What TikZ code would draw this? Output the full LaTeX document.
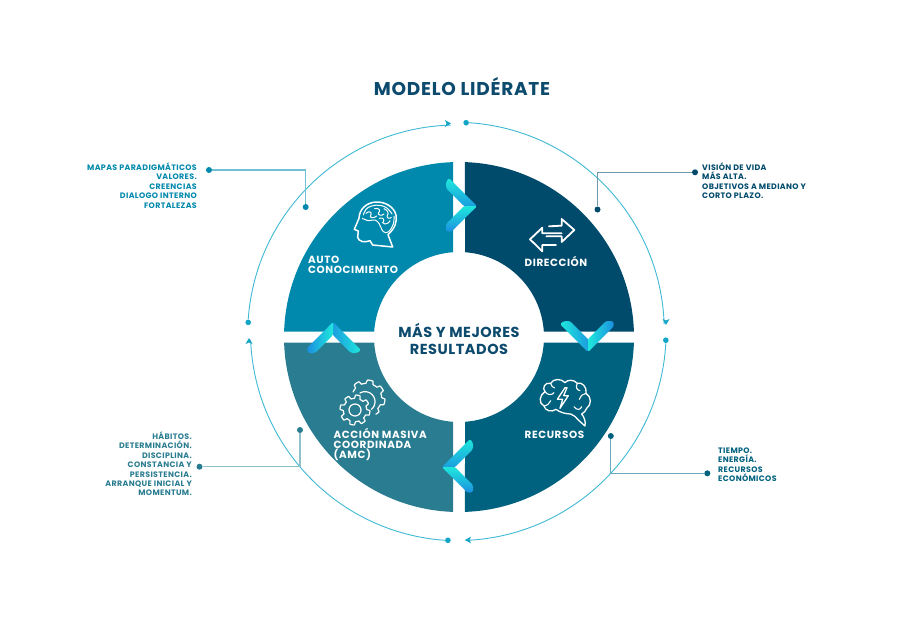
\documentclass[tikz,border=0pt]{standalone}
\usepackage{fontspec}
\setmainfont{Poppins}
\definecolor{cTL}{HTML}{0089AC}
\definecolor{cTR}{HTML}{004A6C}
\definecolor{cBL}{HTML}{2A7D90}
\definecolor{cBR}{HTML}{00627F}
\definecolor{lTL}{HTML}{6FC0D4}
\definecolor{lTR}{HTML}{6F98AE}
\definecolor{lBL}{HTML}{90C0CA}
\definecolor{lBR}{HTML}{6AA8BE}
\definecolor{ringc}{HTML}{3FBAD5}
\definecolor{ringd}{HTML}{12A5C5}
\definecolor{chA}{HTML}{1EE8DC}
\definecolor{chB}{HTML}{1C8EE0}
\definecolor{titlec}{HTML}{0C4A6E}
\tikzset{
  ringdot/.style={circle,fill=ringd,inner sep=0pt,minimum size=5.6pt},
  ringarc/.style={draw=ringc,line width=0.9pt},
  ringtip/.style={fill=ringd,draw=none},
  leader/.style={line width=1.2pt},
  enddot/.style={circle,inner sep=0pt,minimum size=6pt},
  sidetext/.style={inner sep=0pt,font=\fontsize{7.9}{9.38}\selectfont\bfseries\addfontfeature{LetterSpace=4.4}},
  seglabel/.style={inner sep=0pt,text=white,font=\fontsize{10.4}{9.7}\selectfont\bfseries\addfontfeature{LetterSpace=5.6}},
  icon/.style={draw=white,line width=1.5pt,line join=round,line cap=round,fill=none},
  thinicon/.style={icon,line width=1pt},
  cupper/.style={shade,top color=chA,bottom color=chB},
  cdown/.style={shade,left color=chA,right color=chB},
  cup/.style={shade,left color=chB,right color=chA}
}
\newcommand{\chevron}[7]{% tipx tipy xvec-x xvec-y yvec-x yvec-y style
  \begin{scope}[shift={(#1pt,-#2pt)},x={(#3pt,#4pt)},y={(#5pt,#6pt)}]
    \path[#7,rounded corners=1.5pt] (-28,28) -- (-31,24) -- (-31,18) -- (-13,0) -- (-6,-6) -- (0,0) -- cycle;
    \path[#7,rounded corners=1.5pt] (0,0) -- (-26,-26) -- (-31,-25) -- (-31,-18) -- (-13,0) -- cycle;
  \end{scope}}
\begin{document}
\begin{tikzpicture}[x=1pt,y=-1pt]
\useasboundingbox (0,0) rectangle (904,625);
\fill[white] (0,0) rectangle (904,625);
% ring
\begin{scope}[shift={(457pt,-331.5pt)},x=1pt,y=1pt]
  \node[ringdot] (rt) at (87.5:209) {};
  \node[ringdot] (rr) at (-2.4:209) {};
  \node[ringdot] (rb) at (-92.5:209) {};
  \node[ringdot] (rl) at (177.5:209) {};
  \draw[ringarc] (rt.east) arc[start angle=86.2,end angle=2.05,radius=209];
  \draw[ringarc] (rr.south) arc[start angle=-3.2,end angle=-87.7,radius=209];
  \draw[ringarc] (rb.west) arc[start angle=-94,end angle=-177.8,radius=209];
  \draw[ringarc] (rl.north) arc[start angle=176,end angle=91.7,radius=209];
\end{scope}
\fill[ringtip] (666,325) -- (662.5,319) -- (666,320.5) -- (669.5,319) -- cycle;
\fill[ringtip] (465,540) -- (471,536.6) -- (469.5,540) -- (471,543.4) -- cycle;
\fill[ringtip] (249,338) -- (245.5,344) -- (249,342.5) -- (252.5,344) -- cycle;
\fill[ringtip] (451,123.5) -- (445,120) -- (446.5,123.5) -- (445,127) -- cycle;
% leaders
\node[enddot,fill=cTL] (a1) at (209,170) {};
\node[enddot,fill=cTL] (a2) at (305.7,207) {};
\draw[leader,draw=lTL] (a1) -| (a2);
\node[enddot,fill=cTR] (b1) at (695,172.3) {};
\node[enddot,fill=cTR] (b2) at (597.5,209.5) {};
\draw[leader,draw=lTR] (b1) -| (b2);
\node[enddot,fill=cBL] (c1) at (199.5,466.7) {};
\node[enddot,fill=cBL] (c2) at (300,430) {};
\draw[leader,draw=lBL] (c1) -| (c2);
\node[enddot,fill=cBR] (d1) at (707.3,473.3) {};
\node[enddot,fill=cBR] (d2) at (610.8,436) {};
\draw[leader,draw=lBR] (d1) -| (d2);
% quadrants
\begin{scope}[shift={(459pt,-337pt)},x=1pt,y=1pt]
  \fill[cTR] (88.04:175) arc[start angle=88.04,end angle=1.8,radius=175] -- (3.71:85) arc[start angle=3.71,end angle=85.95,radius=85] -- cycle;
  \begin{scope}[xscale=-1]
  \fill[cTL] (88.04:175) arc[start angle=88.04,end angle=1.8,radius=175] -- (3.71:85) arc[start angle=3.71,end angle=85.95,radius=85] -- cycle;
  \end{scope}
  \begin{scope}[yscale=-1]
  \fill[cBR] (88.04:175) arc[start angle=88.04,end angle=1.8,radius=175] -- (3.71:85) arc[start angle=3.71,end angle=85.95,radius=85] -- cycle;
  \end{scope}
  \begin{scope}[xscale=-1,yscale=-1]
  \fill[cBL] (88.04:175) arc[start angle=88.04,end angle=1.8,radius=175] -- (3.71:85) arc[start angle=3.71,end angle=85.95,radius=85] -- cycle;
  \end{scope}
\end{scope}
% chevrons
\chevron{477}{206}{1}{0}{0}{1}{cupper}
\chevron{588}{352}{0}{-1}{-1}{0}{cdown}
\chevron{442}{467}{-1}{0}{0}{1}{cupper}
\chevron{333}{322}{0}{1}{1}{0}{cup}
% head icon
\begin{scope}[shift={(280pt,-150pt)},x=0.3333pt,y=-0.3333pt]
  \draw[icon] (338,291) -- (324,254) .. controls (345,235) and (352,215) .. (348,195)
    .. controls (342,170) and (315,155) .. (288,156)
    .. controls (258,158) and (238,178) .. (237,205) -- (223,238) -- (235,243) -- (233,262)
    .. controls (236,276) and (255,278) .. (270,272) -- (278,285) -- cycle;
  \draw[thinicon] plot[smooth,tension=0.7] coordinates {(247,205) (265,212) (285,210) (298,222) (310,245) (326,245) (340,222) (342,198)};
  \draw[thinicon] plot[smooth,tension=0.7] coordinates {(250,195) (258,178) (275,168) (300,166) (322,175) (336,192)};
  \draw[thinicon] (258,190) .. controls (268,180) and (278,188) .. (272,196) .. controls (266,204) and (282,206) .. (290,198);
  \draw[thinicon] (284,176) .. controls (296,172) and (304,182) .. (296,188) .. controls (290,194) and (306,200) .. (312,192);
  \draw[thinicon] (312,176) .. controls (322,180) and (328,190) .. (322,196) .. controls (316,204) and (332,208) .. (334,202);
  \draw[thinicon] (298,205) .. controls (310,200) and (316,212) .. (308,218) .. controls (316,226) and (326,220) .. (330,212);
\end{scope}
% arrows icon
\begin{scope}[shift={(450pt,-150pt)},x=0.3333pt,y=-0.3333pt]
  \draw[icon,line width=1.8pt] (297,229) -- (335,227) -- (335,207) -- (373,240) -- (335,276) -- (335,259) -- (289,259);
  \draw[icon,line width=1.8pt] (318,285) -- (277,285) -- (277,304) -- (240,268) -- (277,233) -- (277,250) -- (335,250);
\end{scope}
% gears icon
\begin{scope}[shift={(280pt,-330pt)},x=0.3333pt,y=-0.3333pt]
  \draw[thinicon,line width=1.2pt] plot[samples=193,domain=0:360] ({225+(40+5*max(-1,min(1,3*sin(8*\x))))*cos(\x)},{240+(40+5*max(-1,min(1,3*sin(8*\x))))*sin(\x)}) -- cycle;
  \draw[thinicon,line width=1.2pt] (225,240) circle[radius=18];
  \draw[thinicon,line width=1.2pt] plot[samples=120,domain=-155:60] ({260+(50+5*max(-1,min(1,3*sin(8*\x))))*cos(\x)},{205+(50+5*max(-1,min(1,3*sin(8*\x))))*sin(\x)});
  \draw[thinicon,line width=1.2pt] plot[samples=40,domain=-120:50] ({255+30*cos(\x)},{215+30*sin(\x)});
\end{scope}
% brain-bolt icon
\begin{scope}[shift={(450pt,-340pt)},x=0.3333pt,y=-0.3333pt]
  \draw[icon,line width=1.3pt] (345,128) .. controls (335,115) and (310,115) .. (302,130)
    .. controls (285,125) and (275,145) .. (285,155)
    .. controls (268,165) and (265,190) .. (282,198)
    .. controls (285,212) and (305,218) .. (318,208)
    .. controls (330,218) and (350,222) .. (362,222)
    .. controls (372,225) and (378,232) .. (385,240)
    -- (405,258) .. controls (408,245) and (402,230) .. (395,222)
    .. controls (402,218) and (408,212) .. (410,205)
    .. controls (425,195) and (425,170) .. (408,160)
    .. controls (412,140) and (395,125) .. (382,130)
    .. controls (372,118) and (352,118) .. (345,128);
  \draw[icon,line width=1.3pt] (345,143) -- (322,178) -- (338,178) -- (330,205) -- (355,167) -- (341,167) -- (351,143) -- cycle;
  \draw[thinicon,line width=1.1pt] (285,155) .. controls (292,166) and (306,166) .. (312,158);
  \draw[thinicon,line width=1.1pt] (282,198) .. controls (292,196) and (300,190) .. (302,182);
  \draw[thinicon,line width=1.1pt] (382,130) .. controls (376,142) and (380,150) .. (390,152);
  \draw[thinicon,line width=1.1pt] (408,160) .. controls (398,162) and (390,168) .. (388,178);
  \draw[thinicon,line width=1.1pt] (372,200) .. controls (380,212) and (392,210) .. (395,200);
  \draw[thinicon,line width=1.1pt] (302,130) .. controls (304,138) and (308,142) .. (314,144);
\end{scope}
% text
\node[anchor=center,inner sep=0pt,text=titlec,font=\fontsize{18.5}{20}\selectfont\bfseries\addfontfeature{LetterSpace=4}] (title) at (462,86.5) {MODELO LIDÉRATE};
\node[anchor=center,align=center,inner sep=0pt,text=titlec,font=\fontsize{14.5}{17}\selectfont\bfseries\addfontfeature{LetterSpace=3.7}] (centre) at (459,338.5) {MÁS Y MEJORES\\RESULTADOS};
\node[seglabel,anchor=west,align=left] (s1) at (308,265) {AUTO\\CONOCIMIENTO};
\node[seglabel,anchor=west] (s2) at (524.5,261.5) {DIRECCIÓN};
\node[seglabel,anchor=west] (s3) at (524.5,435) {RECURSOS};
\node[seglabel,anchor=west,align=left] (s4) at (333.5,444.5) {ACCIÓN MASIVA\\COORDINADA\\(AMC)};
\node[sidetext,anchor=east,align=right,text=cTL] (t1) at (197,185.5) {MAPAS PARADIGMÁTICOS\\VALORES.\\CREENCIAS\\DIALOGO INTERNO\\FORTALEZAS};
\node[sidetext,anchor=west,align=left,text=cTR] (t2) at (702,180.5) {VISIÓN DE VIDA\\MÁS ALTA.\\OBJETIVOS A MEDIANO Y\\CORTO PLAZO.};
\node[sidetext,anchor=east,align=right,text=cBL] (t3) at (192,463.8) {HÁBITOS.\\DETERMINACIÓN.\\DISCIPLINA.\\CONSTANCIA Y\\PERSISTENCIA.\\ARRANQUE INICIAL Y\\MOMENTUM.};
\node[sidetext,anchor=west,align=left,text=cBR] (t4) at (718,464.8) {TIEMPO.\\ENERGÍA.\\RECURSOS\\ECONÓMICOS};
\end{tikzpicture}
\end{document}
